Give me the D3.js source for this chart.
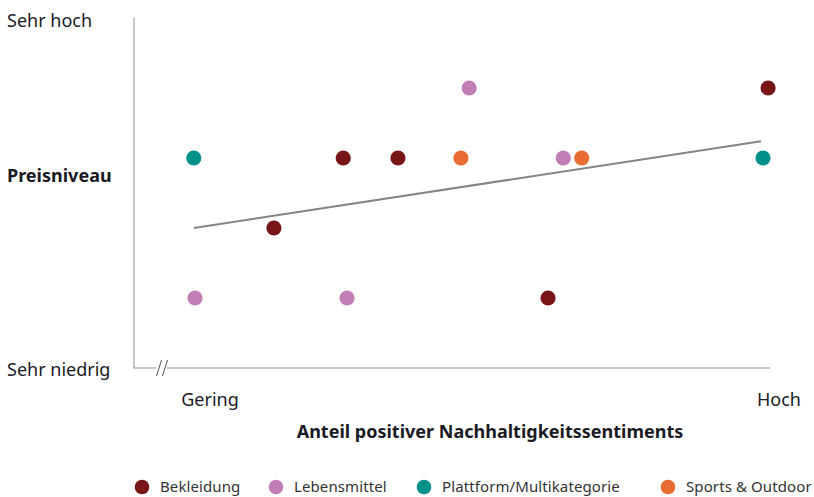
<!DOCTYPE html>
<html><head><meta charset="utf-8">
<script src="https://cdn.jsdelivr.net/npm/d3@7"></script>
<style>
html,body{margin:0;padding:0;background:#fff;}
svg{display:block;font-family:"Noto Sans",sans-serif;}
</style></head>
<body>
<svg id="c" width="814" height="497"></svg>
<script>
// Data
const categories = ["Bekleidung", "Lebensmittel", "Plattform/Multikategorie", "Sports & Outdoor"];
const colors = ["#771517", "#c17db5", "#00918a", "#e96c33"];
const bekleidungX = [32.9, 41.5, 22.0, 65.1, 99.7];
const bekleidungY = [3, 3, 2, 1, 4];
const lebensmittelX = [9.6, 33.5, 52.7, 67.5];
const lebensmittelY = [1, 1, 4, 3];
const plattformX = [9.4, 98.9];
const plattformY = [3, 3];
const sportsX = [51.4, 70.4];
const sportsY = [3, 3];
const trendX = [9.4, 98.6];
const trendY = [2.0, 3.24];
const yLabels = ["Sehr niedrig", "Preisniveau", "Sehr hoch"];
const xLabels = ["Gering", "Hoch"];
const xTitle = "Anteil positiver Nachhaltigkeitssentiments";

const series = [
  {name: categories[0], xs: bekleidungX, ys: bekleidungY},
  {name: categories[1], xs: lebensmittelX, ys: lebensmittelY},
  {name: categories[2], xs: plattformX, ys: plattformY},
  {name: categories[3], xs: sportsX, ys: sportsY}
];

const svg = d3.select("#c");
const x = d3.scaleLinear().domain([0, 100]).range([134, 770]);
const y = d3.scaleLinear().domain([0, 5]).range([368, 18]);
const color = d3.scaleOrdinal().domain(categories).range(colors);
const textColor = "#1a1a24";
const axisColor = "#b3b3b3";

// axes
svg.append("line").attr("x1", x(0)).attr("x2", x(0)).attr("y1", y(5)).attr("y2", y(0))
  .attr("stroke", axisColor).attr("stroke-width", 1.5);
svg.append("line").attr("x1", x(0) - 0.75).attr("x2", x(100)).attr("y1", y(0)).attr("y2", y(0))
  .attr("stroke", axisColor).attr("stroke-width", 1.5);
// axis break
const bx = x(0) + 29;
svg.append("rect").attr("x", bx - 7).attr("y", y(0) - 3).attr("width", 11).attr("height", 6).attr("fill", "#fff");
[-4, 2].forEach(o => {
  svg.append("line").attr("x1", bx + o - 2.5).attr("x2", bx + o + 2.5)
    .attr("y1", y(0) + 8).attr("y2", y(0) - 8)
    .attr("stroke", "#555").attr("stroke-width", 1);
});

// trend line
const line = d3.line().x(d => x(d[0])).y(d => y(d[1]));
svg.append("path").datum(d3.zip(trendX, trendY)).attr("d", line)
  .attr("fill", "none").attr("stroke", "#858585").attr("stroke-width", 2);

// points
series.forEach(s => {
  svg.append("g").selectAll("circle").data(d3.zip(s.xs, s.ys)).join("circle")
    .attr("cx", d => x(d[0])).attr("cy", d => y(d[1])).attr("r", 7.6)
    .attr("fill", color(s.name));
});

// y labels
svg.append("text").attr("x", 7).attr("y", 27).text(yLabels[2])
  .attr("font-size", 18).attr("fill", textColor);
svg.append("text").attr("x", 7).attr("y", 182).text(yLabels[1])
  .attr("font-size", 18).attr("font-weight", "bold").attr("fill", textColor);
svg.append("text").attr("x", 7).attr("y", 376).text(yLabels[0])
  .attr("font-size", 18).attr("fill", textColor);

// x labels
svg.append("text").attr("x", 210).attr("y", 406).attr("text-anchor", "middle").text(xLabels[0])
  .attr("font-size", 18).attr("fill", textColor);
svg.append("text").attr("x", 779).attr("y", 406).attr("text-anchor", "middle").text(xLabels[1])
  .attr("font-size", 18).attr("fill", textColor);
svg.append("text").attr("x", 490).attr("y", 438).attr("text-anchor", "middle").text(xTitle)
  .attr("font-size", 18).attr("font-weight", "bold").attr("fill", textColor);

// legend
const legendX = [142, 276, 424, 668];
const lg = svg.append("g");
categories.forEach((c, i) => {
  lg.append("circle").attr("cx", legendX[i]).attr("cy", 487).attr("r", 7.3).attr("fill", color(c));
  lg.append("text").attr("x", legendX[i] + 18).attr("y", 492).text(c)
    .attr("font-size", 15).attr("fill", "#333").attr("letter-spacing", 0.1);
});
</script>
</body></html>
